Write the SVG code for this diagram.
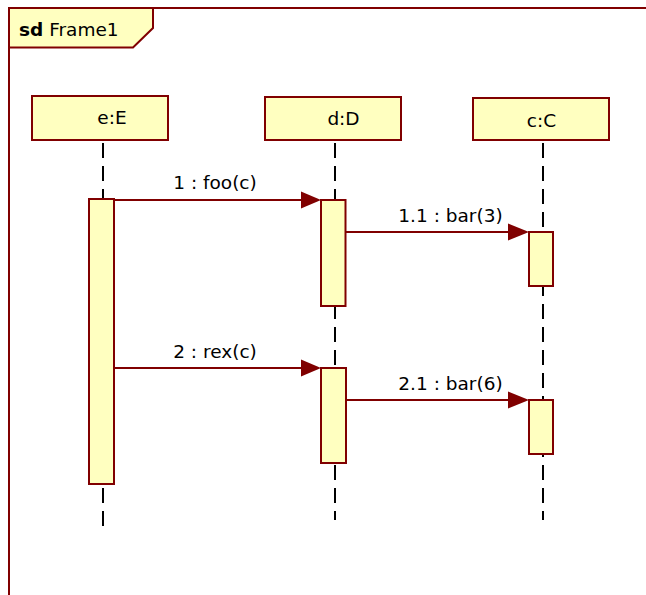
<svg xmlns="http://www.w3.org/2000/svg" width="646" height="595" viewBox="0 0 646 595">
<defs>
<style>
.box{fill:#FFFFC0;stroke:#800000;stroke-width:2}
.act{fill:#FFFFC0;stroke:#800000;stroke-width:2}
.life{stroke:#000;stroke-width:2;stroke-dasharray:15 8;fill:none}
.msg{stroke:#800000;stroke-width:2;fill:none}
.head{fill:#800000}
text{font-family:"DejaVu Sans","Liberation Sans",sans-serif;font-size:18.5px;fill:#000}
.c{text-anchor:middle}
</style>
</defs>
<rect x="0" y="0" width="646" height="595" fill="#fff"/>
<g id="frame">
<rect x="9" y="8" width="660" height="620" fill="none" stroke="#800000" stroke-width="2"/>
<path d="M9,8 H153 V28 L133,47.5 H9 Z" class="box"/>
<text x="19" y="36"><tspan font-weight="bold">sd</tspan> Frame1</text>
</g>
<g id="lifelines">
<line class="life" x1="103" y1="143" x2="103" y2="528"/>
<line class="life" x1="335" y1="143" x2="335" y2="520"/>
<line class="life" x1="543" y1="143" x2="543" y2="520"/>
</g>
<g id="e">
<rect class="box" x="32" y="96" width="136" height="44"/>
<text class="c" x="112" y="123.5">e:E</text>
<rect class="act" x="89" y="199" width="25" height="285"/>
</g>
<g id="d">
<rect class="box" x="265" y="97" width="136" height="43"/>
<text class="c" x="343.5" y="124.5">d:D</text>
<rect class="act" x="321" y="200" width="24.5" height="106"/>
<rect class="act" x="321" y="368" width="25" height="95"/>
</g>
<g id="c">
<rect class="box" x="473" y="98" width="136" height="42"/>
<text class="c" x="541.5" y="127">c:C</text>
<rect class="act" x="529" y="232" width="24" height="54"/>
<rect class="act" x="529" y="400" width="24" height="54"/>
</g>
<g id="connectors">
<line class="msg" x1="114" y1="200" x2="303" y2="200"/>
<path class="head" d="M321,200 L301,191.5 L301,208.5 Z"/>
<text class="c" x="215" y="189">1 : foo(c)</text>
<line class="msg" x1="345.5" y1="232" x2="511" y2="232"/>
<path class="head" d="M529,232 L508,223.5 L508,240.5 Z"/>
<text class="c" x="450.5" y="221.5">1.1 : bar(3)</text>
<line class="msg" x1="114" y1="368" x2="303" y2="368"/>
<path class="head" d="M321,368 L301,359.5 L301,376.5 Z"/>
<text class="c" x="215" y="357.5">2 : rex(c)</text>
<line class="msg" x1="346" y1="400" x2="511" y2="400"/>
<path class="head" d="M529,400 L508,391.5 L508,408.5 Z"/>
<text class="c" x="450.5" y="389.5">2.1 : bar(6)</text>
</g>
</svg>
